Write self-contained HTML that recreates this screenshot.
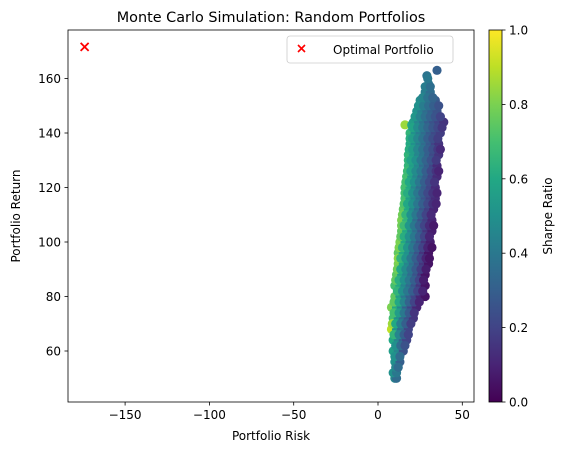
<!DOCTYPE html>
<html><head><meta charset="utf-8">
<style>
body{margin:0;background:#fff;font-family:"Liberation Sans","DejaVu Sans",sans-serif;}
svg text{font-family:"DejaVu Sans","Liberation Sans",sans-serif;font-size:12px;fill:#000;}
</style></head>
<body>
<svg id="chart" width="567" height="453" xmlns="http://www.w3.org/2000/svg">
<defs>
<linearGradient id="vir" x1="0" y1="1" x2="0" y2="0">
<stop offset="0" stop-color="#440154"/><stop offset="0.1" stop-color="#482475"/><stop offset="0.2" stop-color="#414487"/><stop offset="0.3" stop-color="#355f8d"/><stop offset="0.4" stop-color="#2a788e"/><stop offset="0.5" stop-color="#21918c"/><stop offset="0.6" stop-color="#22a884"/><stop offset="0.7" stop-color="#44bf70"/><stop offset="0.8" stop-color="#7ad151"/><stop offset="0.9" stop-color="#bddf26"/><stop offset="1" stop-color="#fde725"/>
</linearGradient>
<clipPath id="clip"><rect x="68" y="30" width="406" height="372"/></clipPath>
</defs>
<g id="points" clip-path="url(#clip)"></g>
<rect x="68" y="30" width="406" height="372" fill="none" stroke="#000" stroke-width="0.8"/>
<g id="xt"></g>
<g id="yt"></g>
<text x="271" y="22" text-anchor="middle" style="font-size:14.4px">Monte Carlo Simulation: Random Portfolios</text>
<text x="271" y="440" text-anchor="middle">Portfolio Risk</text>
<text transform="translate(20,216) rotate(-90)" text-anchor="middle">Portfolio Return</text>
<g id="opt"></g>
<g>
<rect x="287" y="36" width="166" height="27" rx="3" fill="#fff" stroke="#ccc" stroke-width="0.8"/>
<path d="M298,45 l7,7 M305,45 l-7,7" stroke="#f00" stroke-width="1.6"/>
<text x="333" y="54">Optimal Portfolio</text>
</g>
<rect x="489" y="30" width="13" height="372" fill="url(#vir)" stroke="#000" stroke-width="0.8"/>
<g id="cb"></g>
<text transform="translate(552,216) rotate(-90)" text-anchor="middle">Sharpe Ratio</text>
</svg>
<script>
const returns = [50,50,52,52,56,56,60,60,60,64,64,64,64,68,68,68,68,72,72,72,72,72,
76,76,76,76,76,76,80,80,80,80,80,80,80,84,84,84,84,84,84,84,88,88,88,88,88,88,88,
92,92,92,92,92,92,92,96,96,96,96,96,96,96,100,100,100,100,100,100,100,104,104,104,104,104,104,104,
108,108,108,108,108,108,108,112,112,112,112,112,112,112,116,116,116,116,116,116,116,
120,120,120,120,120,120,120,124,124,124,124,124,124,124,128,128,128,128,128,128,128,
132,132,132,132,132,132,132,136,136,136,136,136,136,136,140,140,140,140,140,140,140,
143,143,144,144,144,144,144,144,144,148,148,148,148,148,152,152,152,152,155,155,158,161,163];
const risks = [10,11,9,11,10,13,9,12,15,9,12,15,17,8,11,14,18,9,12,15,18,21,
8,11,14,17,20,23,10,13,16,19,22,25,28,10,13,16,19,22,25,28,11,14,17,20,23,26,28,
12,15,18,21,24,27,30,12,15,18,21,24,27,30,13,16,19,22,25,28,31,14,17,20,23,26,29,32,
14,17,20,23,26,29,32,15,18,21,24,27,30,33,16,19,22,25,28,31,34,
16,19,22,25,28,31,34,17,20,23,26,29,32,35,18,21,24,27,30,33,35,
18,21,24,27,30,33,36,19,22,25,28,31,34,36,19,22,25,28,31,34,37,
16,20,21,24,27,30,33,36,39,23,26,29,32,35,25,28,31,34,28,31,30,29,35];
const sharpe = [0.45,0.35,0.5,0.4,0.5,0.3,0.55,0.45,0.25,0.6,0.45,0.3,0.2,0.9,0.5,0.35,0.2,0.7,0.5,0.35,0.25,0.15,
0.8,0.6,0.45,0.3,0.2,0.1,0.75,0.55,0.4,0.3,0.2,0.1,0.05,0.7,0.6,0.45,0.35,0.25,0.15,0.05,0.75,0.55,0.45,0.35,0.25,0.15,0.05,
0.8,0.6,0.45,0.35,0.25,0.15,0.05,0.75,0.6,0.5,0.35,0.25,0.15,0.05,0.8,0.6,0.45,0.35,0.25,0.15,0.08,0.75,0.6,0.45,0.35,0.25,0.15,0.08,
0.8,0.65,0.5,0.35,0.25,0.18,0.1,0.75,0.6,0.45,0.35,0.25,0.18,0.1,0.7,0.55,0.45,0.35,0.25,0.18,0.12,
0.7,0.6,0.45,0.35,0.28,0.2,0.12,0.7,0.55,0.45,0.35,0.28,0.2,0.12,0.65,0.55,0.45,0.35,0.28,0.2,0.12,
0.65,0.55,0.45,0.38,0.3,0.22,0.15,0.6,0.5,0.42,0.35,0.28,0.2,0.15,0.65,0.5,0.42,0.35,0.28,0.22,0.18,
0.85,0.6,0.55,0.45,0.38,0.3,0.25,0.2,0.15,0.5,0.42,0.35,0.3,0.25,0.48,0.4,0.33,0.28,0.42,0.35,0.4,0.38,0.3];
const returns2 = [54,54,58,58,62,62,62,66,66,66,66,70,70,70,70,70,74,74,74,74,74,
78,78,78,78,78,78,82,82,82,82,82,82,86,86,86,86,86,86,86,90,90,90,90,90,90,90,
94,94,94,94,94,94,94,94,98,98,98,98,98,98,98,98,102,102,102,102,102,102,102,
106,106,106,106,106,106,106,106,110,110,110,110,110,110,110,114,114,114,114,114,114,114,114,
118,118,118,118,118,118,118,118,122,122,122,122,122,122,122,126,126,126,126,126,126,126,126,
130,130,130,130,130,130,130,134,134,134,134,134,134,134,134,138,138,138,138,138,138,138,
142,142,142,142,142,142,142,146,146,146,146,146,146,150,150,150,150,150,153,153,153,157,157,160];
const risks2 = [10.5,12,10,13,10.5,13.5,16,9.5,12.5,15.5,18,8.5,10.5,13.5,16.5,19.5,9.5,12.5,15.5,18.5,21.5,
9.5,12.5,15.5,18.5,21.5,24.5,11.5,14.5,17.5,20.5,23.5,26.5,10.5,12.5,15.5,18.5,21.5,24.5,27,11.5,13.5,16.5,19.5,22.5,25.5,28.5,
12,13.5,16.5,19.5,22.5,25.5,28.5,30.5,12.5,14.5,17.5,20.5,23.5,26.5,29.5,32,13.5,15.5,18.5,21.5,24.5,27.5,30.5,
14,15.5,18.5,21.5,24.5,27.5,30.5,33,14.5,16.5,19.5,22.5,25.5,28.5,31.5,15.5,17.5,20.5,23.5,26.5,29.5,32.5,34.5,
16,17.5,20.5,23.5,26.5,29.5,32.5,35,16.5,18.5,21.5,24.5,27.5,30.5,33.5,17.5,19.5,22.5,25.5,28.5,31.5,34.5,36,
18,19.5,22.5,25.5,28.5,31.5,34.5,18.5,20.5,23.5,26.5,29.5,32.5,35.5,37,19,20.5,23.5,26.5,29.5,32.5,35.5,
20.5,23.5,26.5,29.5,32.5,35.5,38,22,25,28,31,34,37,24,27,30,33,36,26.5,29.5,32.5,28,31,29.5];
const sharpe2 = [0.45,0.35,0.5,0.35,0.5,0.35,0.25,0.65,0.45,0.3,0.2,0.85,0.6,0.42,0.3,0.18,0.7,0.55,0.4,0.28,0.15,
0.75,0.6,0.45,0.32,0.2,0.1,0.65,0.5,0.4,0.3,0.2,0.1,0.75,0.62,0.5,0.4,0.3,0.2,0.08,0.78,0.6,0.48,0.38,0.28,0.18,0.08,
0.82,0.65,0.52,0.4,0.3,0.2,0.1,0.05,0.8,0.65,0.52,0.4,0.3,0.2,0.1,0.05,0.75,0.62,0.5,0.4,0.3,0.2,0.1,
0.78,0.68,0.52,0.4,0.3,0.2,0.12,0.07,0.78,0.65,0.5,0.4,0.3,0.2,0.12,0.72,0.6,0.5,0.4,0.3,0.22,0.14,0.1,
0.7,0.62,0.5,0.4,0.3,0.22,0.15,0.1,0.7,0.6,0.5,0.4,0.3,0.22,0.15,0.68,0.58,0.48,0.4,0.3,0.22,0.15,0.1,
0.65,0.58,0.5,0.4,0.32,0.25,0.17,0.62,0.55,0.46,0.38,0.3,0.24,0.17,0.12,0.62,0.55,0.46,0.38,0.3,0.24,0.18,
0.58,0.48,0.4,0.33,0.27,0.22,0.16,0.52,0.44,0.37,0.31,0.26,0.2,0.5,0.42,0.36,0.3,0.25,0.45,0.38,0.32,0.42,0.36,0.4];
const optRisk = [-174];
const optReturn = [171.6];
const xTicks = [-150,-100,-50,0,50];
const yTicks = [60,80,100,120,140,160];
const cbTicks = [0,0.2,0.4,0.6,0.8,1.0];

const NS="http://www.w3.org/2000/svg";
const X=v=>378+v*1.686;
const Y=v=>351-(v-60)*2.725;
const C=v=>402-v*372;
const stops=[[68,1,84],[72,36,117],[65,68,135],[53,95,141],[42,120,142],[33,145,140],[34,168,132],[68,191,112],[122,209,81],[189,223,38],[253,231,37]];
function vir(t){t=Math.max(0,Math.min(1,t))*10;const i=Math.min(9,Math.floor(t)),f=t-i;const a=stops[i],b=stops[i+1];
return `rgb(${a.map((c,k)=>Math.round(c+(b[k]-c)*f)).join(',')})`;}
function mk(tag,attrs,parent){const e=document.createElementNS(NS,tag);for(const k in attrs)e.setAttribute(k,attrs[k]);parent.appendChild(e);return e;}
const pg=document.getElementById('points');
const allR=returns.concat(returns2), allK=risks.concat(risks2), allS=sharpe.concat(sharpe2);
for(let i=0;i<allR.length;i++){
 const c=mk('circle',{cx:X(allK[i]),cy:Y(allR[i]),r:4.6,fill:vir(allS[i])},pg);
 
 
}
const xt=document.getElementById('xt');
xTicks.forEach(v=>{mk('line',{x1:X(v),x2:X(v),y1:402,y2:405.5,stroke:'#000','stroke-width':0.8},xt);
 const t=mk('text',{x:X(v),y:419,'text-anchor':'middle'},xt);t.textContent=v<0?'\u2212'+Math.abs(v):v;
 
 });
const yt=document.getElementById('yt');
yTicks.forEach(v=>{mk('line',{x1:64.5,x2:68,y1:Y(v),y2:Y(v),stroke:'#000','stroke-width':0.8},yt);
 const t=mk('text',{x:61,y:Y(v)+4.5,'text-anchor':'end'},yt);t.textContent=v;
 
 });
const cb=document.getElementById('cb');
cbTicks.forEach(v=>{mk('line',{x1:502,x2:505.5,y1:C(v),y2:C(v),stroke:'#000','stroke-width':0.8},cb);
 const t=mk('text',{x:509,y:C(v)+4.5},cb);t.textContent=v.toFixed(1);
 
 });
const og=document.getElementById('opt');
optRisk.forEach((v,i)=>{const x=X(v),y=Y(optReturn[i]);
 const p=mk('path',{d:`M${x-4},${y-4} L${x+4},${y+4} M${x+4},${y-4} L${x-4},${y+4}`,stroke:'#f00','stroke-width':1.8},og);
 
 });
</script>
</body></html>
